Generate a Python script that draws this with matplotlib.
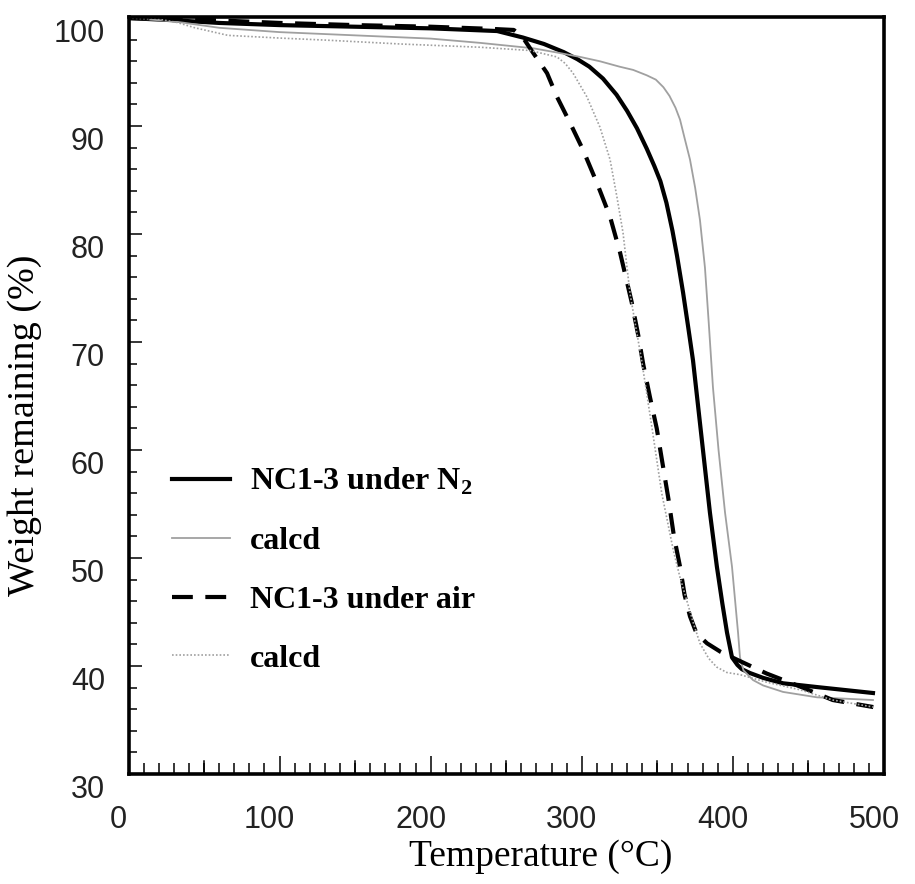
import matplotlib
matplotlib.use("Agg")
import matplotlib.pyplot as plt
import matplotlib.transforms as mtransforms
from matplotlib.ticker import MultipleLocator

# NC1-3 under N2 (measured)
n2_temp = [0, 30, 60, 100, 150, 200, 244, 261, 275, 288, 297, 305, 314, 323, 330, 336.5, 343, 348,
           352, 356, 360, 363, 367, 370.5, 373.6, 379, 384.8, 389.4, 393, 396.1, 399.4, 403, 406,
           411.3, 420, 433.2, 455.7, 492.7]
n2_wt = [100, 99.8, 99.55, 99.35, 99.2, 99.05, 98.8, 98.2, 97.6, 96.85, 96.2, 95.5, 94.4, 92.9,
         91.4, 89.8, 87.9, 86.3, 84.9, 82.9, 80.3, 78.0, 74.6, 71.3, 68.3, 61.5, 54.2, 49.2, 45.8,
         43.1, 40.8, 40.1, 39.7, 39.35, 38.9, 38.4, 38.05, 37.5]

# calcd, N2
n2c_temp = [0, 30, 60, 100, 150, 200, 233, 268, 284, 299, 312, 325, 334, 343, 349, 354, 358, 362,
            365, 368, 371.6, 375, 378.2, 381.5, 384, 386.8, 390.5, 394.8, 399.4, 403.4, 404.7,
            407, 413.3, 420, 433.2, 455.7, 492.7]
n2c_wt = [100, 99.7, 99.1, 98.7, 98.4, 98.1, 97.7, 97.2, 96.8, 96.4, 96.0, 95.5, 95.2, 94.7, 94.3,
          93.6, 92.8, 91.7, 90.6, 88.9, 86.9, 84.3, 81.3, 76.9, 71.8, 65.8, 60.0, 54.2, 49.2, 43.1,
          40.8, 39.6, 38.7, 38.2, 37.6, 37.1, 36.85]

# NC1-3 under air (measured)
air_temp = [0, 40, 100, 150, 200, 240, 255, 261, 267.7, 277, 283.6, 292.2, 300.8, 310.1, 318.7,
            325.3, 333, 337.4, 340.7, 345.1, 349.6, 352.9, 357.3, 361, 365, 368, 371.6, 376,
            382.9, 392, 402.5, 422.4, 444.4, 466.1, 492.9]
air_wt = [100, 99.9, 99.55, 99.35, 99.2, 99.0, 98.9, 98.2, 96.8, 94.9, 92.7, 90.3, 87.8, 84.7,
          81.6, 78.3, 73.7, 70.6, 67.9, 64.9, 62.0, 59.2, 55.5, 52.0, 49.2, 46.6, 44.6, 43.0,
          42.1, 41.3, 40.6, 39.3, 38.1, 36.85, 36.2]

# calcd, air
airc_temp = [0, 20, 32, 44, 65.8, 100, 132, 180, 232.6, 265.7, 283.6, 289, 294.2, 303.4, 312,
             318.7, 323.3, 327.3, 331.9, 339.6, 346.3, 352.9, 360.6, 365, 369.4, 374, 378.2,
             384, 389.3, 396, 404.7, 422.4, 444.4, 466.1, 492.9]
airc_wt = [100, 99.9, 99.6, 99.1, 98.4, 98.15, 97.95, 97.6, 97.3, 97.0, 96.4, 95.8, 94.9, 92.7,
           89.9, 86.9, 83.4, 80.1, 74.5, 68.3, 62.2, 56.0, 50.7, 48.2, 46.1, 43.9, 42.1,
           40.7, 39.9, 39.4, 39.2, 38.5, 37.8, 36.85, 36.2]

labels = [r"NC1-3 under N$_\mathbf{2}$", "calcd", "NC1-3 under air", "calcd"]

plt.rcParams["mathtext.fontset"] = "custom"
plt.rcParams["mathtext.rm"] = "Liberation Serif"
plt.rcParams["mathtext.bf"] = "Liberation Serif:bold"

fig = plt.figure(figsize=(9.15, 8.84), dpi=100)
ax = fig.add_axes([128.5 / 915, 1 - 774 / 884, (884 - 128.5) / 915, (774 - 17) / 884])

ax.plot(n2_temp, n2_wt, color="black", lw=3.0, label=labels[0])
ax.plot(n2c_temp, n2c_wt, color="#a0a0a0", lw=1.3, label=labels[1])
ax.plot(air_temp, air_wt, color="black", lw=3.0, dashes=(5, 3), label=labels[2])
ax.plot(airc_temp, airc_wt, color="#a0a0a0", lw=1.2, dashes=(1, 1.2), label=labels[3])

ax.set_xlim(0, 500)
ax.set_ylim(30, 100.1)
ax.xaxis.set_major_locator(MultipleLocator(100))
ax.xaxis.set_minor_locator(MultipleLocator(10))
ax.yaxis.set_major_locator(MultipleLocator(10))
ax.yaxis.set_minor_locator(MultipleLocator(2))

for sp in ax.spines.values():
    sp.set_linewidth(2.6)

ax.tick_params(axis="x", which="major", direction="in", length=13, width=1.1, pad=22)
ax.tick_params(axis="x", which="minor", direction="in", length=8, width=1.1)
ax.tick_params(axis="y", which="major", direction="in", length=9, width=1.1, pad=17)
ax.tick_params(axis="y", which="minor", direction="in", length=6, width=1.1)
ax.tick_params(top=False, right=False)

# the 50-degree ticks are a bit longer than the minors
for t in range(50, 500, 100):
    ax.axvline(t, ymin=0, ymax=13 / 757, color="black", lw=1.1)

for lbl in ax.get_xticklabels() + ax.get_yticklabels():
    lbl.set_fontfamily("Liberation Sans")
    lbl.set_fontsize(22)
    lbl.set_color("#222222")

# the labels in the original sit a little off their ticks
xoff = mtransforms.ScaledTranslation(-10 / 100, 0, fig.dpi_scale_trans)
yoff = mtransforms.ScaledTranslation(0, -12 / 100, fig.dpi_scale_trans)
for lbl in ax.get_xticklabels():
    lbl.set_transform(lbl.get_transform() + xoff)
for lbl in ax.get_yticklabels():
    lbl.set_transform(lbl.get_transform() + yoff)

ax.set_xlabel("Temperature (°C)", fontfamily="Liberation Serif", fontsize=27)
ax.set_ylabel("Weight remaining (%)", fontfamily="Liberation Serif", fontsize=27.5)
ax.xaxis.set_label_coords(0.545, -0.087)
ax.yaxis.set_label_coords(-0.115, 0.46)

leg = ax.legend(loc="upper left", bbox_to_anchor=(172 / 915, 1 - 466 / 884),
                bbox_transform=fig.transFigure, frameon=False, borderpad=0, borderaxespad=0,
                handlelength=1.82, handletextpad=0.62, labelspacing=0.92,
                prop={"family": "Liberation Serif", "weight": "bold", "size": 23})

fig.savefig("out.png", dpi=100)
